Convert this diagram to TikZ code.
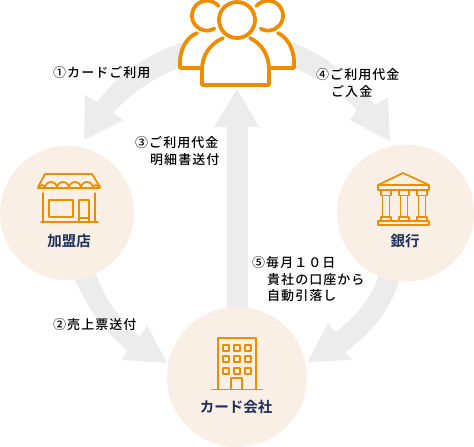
\documentclass[tikz,border=0pt]{standalone}
\usepackage{fontspec}
\setmainfont[LetterSpace=8]{Noto Sans CJK JP Medium}
\newfontfamily\jpbold{Noto Sans CJK JP Bold}
\definecolor{orangeic}{HTML}{F08C00}
\definecolor{peach}{HTML}{F9EFE4}
\definecolor{arrowgray}{HTML}{ECECEC}
\definecolor{navy}{HTML}{1B2F5B}
\tikzset{
  disc/.style={circle,fill=peach,inner sep=0pt,minimum size=#1},
  flow/.style={fill=arrowgray,draw=none},
  ic/.style={draw=orangeic,line width=1.7pt,line join=round,line cap=round},
  icthick/.style={draw=orangeic,line width=3.8pt,line join=round,line cap=round},
  lab/.style={font=\fontsize{13}{16.5}\selectfont,text=black,align=left,anchor=north west,inner sep=0pt},
  title/.style={font=\jpbold\fontsize{14.5}{18}\selectfont,text=navy,inner sep=0pt},
}
\begin{document}
\begin{tikzpicture}[x=1pt,y=-1pt]
\useasboundingbox (0,0) rectangle (474,447);
% arrows
\fill[flow] (190,40) .. controls (150,52) and (120,72) .. (97,102) -- (85,95) -- (84,140) -- (123,120) -- (113,113) .. controls (132,92) and (158,74) .. (195,62) -- cycle;
\fill[flow] (73,275) .. controls (85,305) and (105,332) .. (127,350) -- (122,360) -- (167,363) -- (147,325) -- (140,337) .. controls (120,320) and (105,300) .. (95,272) -- cycle;
\fill[flow] (227,315) -- (227,127) -- (214,127) -- (237,89) -- (259,127) -- (248,127) -- (248,315) -- cycle;
\fill[flow] (285,40) .. controls (322,52) and (352,76) .. (375,105) -- (388,97) -- (390,141) -- (350,120) -- (357,110) .. controls (338,90) and (312,74) .. (280,62) -- cycle;
\fill[flow] (380,272) .. controls (372,298) and (355,318) .. (335,332) -- (328,323) -- (308,362) -- (352,360) -- (345,352) .. controls (370,335) and (392,310) .. (402,272) -- cycle;
% discs
\node[disc=134pt] (shop) at (67,213) {};
\node[disc=137pt] (bank) at (405.5,213) {};
\node[disc=140pt] (card) at (237,377) {};
% people
\path[fill=white] (180,68) -- (180,58) .. controls (181,45) and (188,36) .. (197,32) -- (192,17) arc[start angle=180,end angle=0,radius=45] -- (277,32) .. controls (286,36) and (293,45) .. (294,58) -- (294,68) -- (270,68) -- (270,85) -- (202,85) -- (202,68) -- cycle;
\draw[icthick] (218.5,6) arc[start angle=-40,end angle=-300,radius=15] ;
\draw[icthick] (256.5,6) arc[start angle=220,end angle=480,radius=15] ;
\draw[icthick] (197,33) .. controls (187,37) and (181,48) .. (180,60) -- (180,68) -- (202,68);
\draw[icthick] (278,33) .. controls (287,37) and (293,48) .. (294,60) -- (294,68) -- (270,68);
\draw[icthick] (223,38) .. controls (210,44) and (202,55) .. (202,70) -- (202,85) -- (269,85) -- (269,70) .. controls (269,55) and (262,44) .. (250,38);
\draw[icthick,fill=white] (237,20) circle[radius=18];
% shop icon
\draw[ic] (38,187) -- (45,174) -- (92,174) -- (100,187);
\draw[ic] (38,188) -- (100,188);
\draw[ic] (43,193) -- (43,222) (95,193) -- (95,222) (41,222) -- (98,222);
\draw[ic] (39,188) arc[start angle=180,end angle=360,radius=3] ;
\draw[ic] (45,188) arc[start angle=180,end angle=360,radius=6] arc[start angle=180,end angle=360,radius=6] arc[start angle=180,end angle=360,radius=6] arc[start angle=180,end angle=360,radius=6];
\draw[ic] (93,188) arc[start angle=180,end angle=360,radius=3];
\draw[ic] (49,200) rectangle (73,217);
\draw[ic] (79,200) rectangle (89,222) (79,218) -- (89,218);
% bank icon
\draw[ic] (378,185) -- (403,173) -- (429,185) -- cycle;
\draw[ic] (378,185) rectangle (429,190);
\foreach \cx in {386,404,422}{
  \draw[ic] (\cx-5,190.5) rectangle (\cx+5,195.5);
  \draw[ic] (\cx-3.5,195.5) rectangle (\cx+3.5,217);
  \draw[ic] (\cx-5,217) rectangle (\cx+5,221);
}
\draw[ic] (378,221) rectangle (429,225);
% building icon
\draw[ic] (218,389) -- (218,338) -- (256,338) -- (256,389);
\draw[ic] (212,389.5) -- (262,389.5);
\draw[ic] (231,389) -- (231,378) -- (242,378) -- (242,389);
\foreach \wx in {226,237,248}\foreach \wy in {348,359,371}{
  \draw[ic] (\wx-3,\wy-3) rectangle (\wx+3,\wy+3);
}
% titles
\node[title] (shoplabel) at (69,241) {加盟店};
\node[title] (banklabel) at (405,241) {銀行};
\node[title] (cardlabel) at (236,407) {カード会社};
% labels
\node[lab] (l1) at (53,66.5) {①カードご利用};
\node[lab] (l3) at (135,136.5) {③ご利用代金\\\hspace*{15pt}明細書送付};
\node[lab,fill=white] (l4) at (316,68.5) {④ご利用代金\\\hspace*{15pt}ご入金};
\node[lab] (l5) at (252,256.5) {⑤毎月１０日\\\hspace*{15pt}貴社の口座から\\\hspace*{15pt}自動引落し};
\node[lab,fill=white] (l2) at (53,318.5) {②売上票送付};
\end{tikzpicture}
\end{document}
